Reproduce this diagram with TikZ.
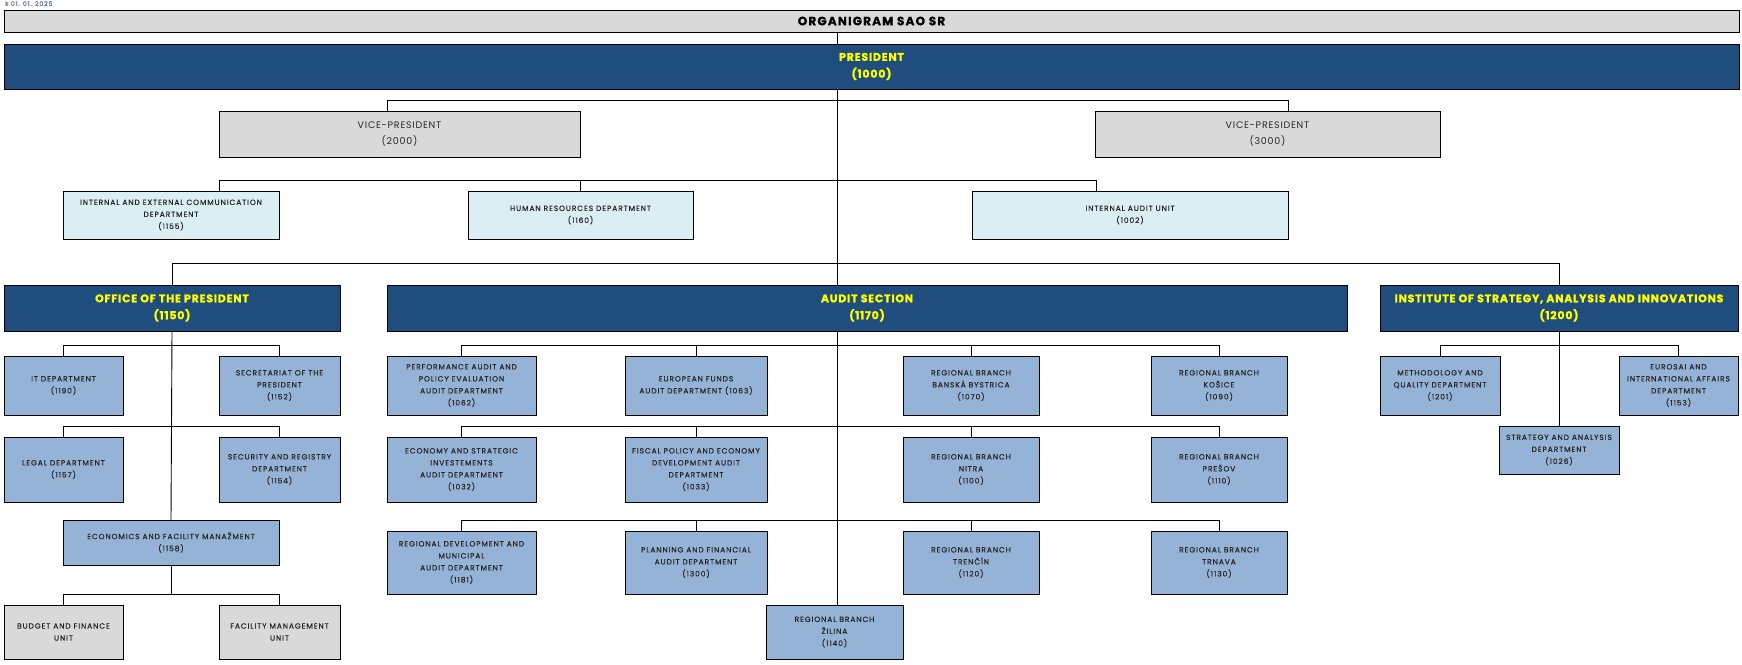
\documentclass[tikz,border=0pt]{standalone}
\usepackage{fontspec}
\setmainfont{Poppins}
\newfontfamily\smallf[LetterSpace=12, FakeBold=0.3]{Poppins}
\newfontfamily\vpf[LetterSpace=8]{Poppins}
\newfontfamily\headf[LetterSpace=7, BoldFeatures={FakeBold=1.2}]{Poppins}
\newfontfamily\titlef[LetterSpace=10, BoldFeatures={FakeBold=0.9}]{Poppins}
\definecolor{gfill}{HTML}{D9D9D9}
\definecolor{dfill}{HTML}{1F4E7E}
\definecolor{mfill}{HTML}{95B3D7}
\definecolor{lfill}{HTML}{DAEEF3}
\definecolor{ytext}{HTML}{FFFF00}
\definecolor{txt}{HTML}{262626}
\definecolor{datec}{HTML}{5B6CA0}
\newcommand\fsm{\smallf\fontsize{7.5}{12}\selectfont}
\newcommand\obox[7]{\node[#6, minimum width={#4pt-#2pt}, minimum height={#5pt-#3pt}] (#1) at ({(#2+#4)/2},{(#3+#5)/2}) {#7};}
\begin{document}
\begin{tikzpicture}[x=1pt,y=-1pt,
  basebox/.style={draw=black, line width=0.9pt, inner sep=1pt, outer sep=0pt, align=center},
  gbox/.style={basebox, fill=gfill, text=txt, font=\fsm},
  titlebox/.style={basebox, fill=gfill, text=black, font=\titlef\fontsize{12}{13}\selectfont\bfseries},
  vpbox/.style={basebox, fill=gfill, text=txt, font=\vpf\fontsize{9.5}{16}\selectfont},
  dbox/.style={basebox, fill=dfill, text=ytext, font=\headf\fontsize{11}{17}\selectfont\bfseries},
  mbox/.style={basebox, fill=mfill, text=txt, font=\fsm},
  lbox/.style={basebox, fill=lfill, text=txt, font=\fsm},
  conn/.style={draw=black, line width=0.9pt}]
\useasboundingbox (0,0) rectangle (1742,664);
\node[anchor=west, inner sep=0pt, text=datec, font=\smallf\fontsize{6.3}{7}\selectfont] (date) at (5,3.6) {k 01. 01. 2025};
% top
\obox{title}{4}{10}{1739}{32}{titlebox}{ORGANIGRAM SAO SR}
\obox{pres}{4}{44}{1739}{89}{dbox}{PRESIDENT\\(1000)}
\obox{vp1}{219}{111}{580}{157}{vpbox}{VICE-PRESIDENT\\(2000)}
\obox{vp2}{1095}{111}{1440}{157}{vpbox}{VICE-PRESIDENT\\(3000)}
\obox{comm}{63}{191}{279}{239}{lbox}{INTERNAL AND EXTERNAL COMMUNICATION\\DEPARTMENT\\(1155)}
\obox{hr}{468}{191}{693}{239}{lbox}{HUMAN RESOURCES DEPARTMENT\\(1160)}
\obox{ia}{972}{191}{1288}{239}{lbox}{INTERNAL AUDIT UNIT\\(1002)}
% level 2
\obox{office}{4}{285}{340}{331}{dbox}{OFFICE OF THE PRESIDENT\\(1150)}
\obox{audit}{387}{285}{1347}{331}{dbox}{AUDIT SECTION\\(1170)}
\obox{inst}{1380}{285}{1738}{331}{dbox}{INSTITUTE OF STRATEGY, ANALYSIS AND INNOVATIONS\\(1200)}
% office
\obox{it}{4}{356}{123}{415}{mbox}{IT DEPARTMENT\\(1190)}
\obox{sec}{219}{356}{340}{415}{mbox}{SECRETARIAT OF THE\\PRESIDENT\\(1152)}
\obox{legal}{4}{437}{123}{502}{mbox}{LEGAL DEPARTMENT\\(1157)}
\obox{secur}{219}{437}{340}{502}{mbox}{SECURITY AND REGISTRY\\DEPARTMENT\\(1154)}
\obox{econ}{63}{520}{279}{565}{mbox}{ECONOMICS AND FACILITY MANAŽMENT\\(1158)}
\obox{budget}{4}{605}{123}{659}{gbox}{BUDGET AND FINANCE\\UNIT}
\obox{facil}{219}{605}{340}{659}{gbox}{FACILITY MANAGEMENT\\UNIT}
% audit
\obox{perf}{387}{356}{536}{415}{mbox}{PERFORMANCE AUDIT AND\\POLICY EVALUATION\\AUDIT DEPARTMENT\\(1062)}
\obox{eu}{625}{356}{767}{415}{mbox}{EUROPEAN FUNDS\\AUDIT DEPARTMENT (1063)}
\obox{bb}{903}{356}{1039}{415}{mbox}{REGIONAL BRANCH\\BANSKÁ BYSTRICA\\(1070)}
\obox{ke}{1151}{356}{1287}{415}{mbox}{REGIONAL BRANCH\\KOŠICE\\(1090)}
\obox{eco}{387}{437}{536}{502}{mbox}{ECONOMY AND STRATEGIC\\INVESTEMENTS\\AUDIT DEPARTMENT\\(1032)}
\obox{fis}{625}{437}{767}{502}{mbox}{FISCAL POLICY AND ECONOMY\\DEVELOPMENT AUDIT\\DEPARTMENT\\(1033)}
\obox{nr}{903}{437}{1039}{502}{mbox}{REGIONAL BRANCH\\NITRA\\(1100)}
\obox{po}{1151}{437}{1287}{502}{mbox}{REGIONAL BRANCH\\PREŠOV\\(1110)}
\obox{rd}{387}{531}{536}{594}{mbox}{REGIONAL DEVELOPMENT AND\\MUNICIPAL\\AUDIT DEPARTMENT\\(1181)}
\obox{pl}{625}{531}{767}{594}{mbox}{PLANNING AND FINANCIAL\\AUDIT DEPARTMENT\\(1300)}
\obox{tn}{903}{531}{1039}{594}{mbox}{REGIONAL BRANCH\\TRENČÍN\\(1120)}
\obox{tt}{1151}{531}{1287}{594}{mbox}{REGIONAL BRANCH\\TRNAVA\\(1130)}
\obox{za}{766}{605}{903}{659}{mbox}{REGIONAL BRANCH\\ŽILINA\\(1140)}
% institute
\obox{meth}{1380}{356}{1500}{415}{mbox}{METHODOLOGY AND\\QUALITY DEPARTMENT\\(1201)}
\obox{euro}{1619}{356}{1738}{415}{mbox}{EUROSAI AND\\INTERNATIONAL AFFAIRS\\DEPARTMENT\\(1153)}
\obox{strat}{1499}{426}{1619}{474}{mbox}{STRATEGY AND ANALYSIS\\DEPARTMENT\\(1026)}
% connectors
\coordinate (T) at (837,0);
\coordinate (v1) at (387,100);
\coordinate (v2) at (1288,100);
\coordinate (s1) at (219,180);
\coordinate (s2) at (580,180);
\coordinate (s3) at (1096,180);
\coordinate (L) at (0,263);
\coordinate (r1) at (0,345);
\coordinate (r2) at (0,426);
\coordinate (r3) at (0,520);
\coordinate (r4) at (0,594);
\draw[conn] (title.south -| T) -- (pres.north -| T);
\draw[conn] (pres.south -| T) -- (audit.north -| T);
\draw[conn] (audit.south -| T) -- (za.north -| T);
\draw[conn] (v1 |- vp1.north) -- (v1) -- (v2) -- (v2 |- vp2.north);
\draw[conn] (s1 |- comm.north) -- (s1) -- (s3) -- (s3 |- ia.north);
\draw[conn] (s2) -- (s2 |- hr.north);
\draw[conn] (office.north) |- (inst.north |- L) -- (inst.north);
% office subtree
\draw[conn] (office.south) -- (econ.north);
\draw[conn] (it.north) |- (sec.north |- r1) -- (sec.north);
\draw[conn] (legal.north) |- (secur.north |- r2) -- (secur.north);
\draw[conn] (econ.south) -- (econ.south |- r4);
\draw[conn] (budget.north) |- (facil.north |- r4) -- (facil.north);
% audit subtree
\draw[conn] (perf.north) |- (ke.north |- r1) -- (ke.north);
\draw[conn] (eu.north) -- (eu.north |- r1);
\draw[conn] (bb.north) -- (bb.north |- r1);
\draw[conn] (eco.north) |- (po.north |- r2) -- (po.north);
\draw[conn] (fis.north) -- (fis.north |- r2);
\draw[conn] (nr.north) -- (nr.north |- r2);
\draw[conn] (rd.north) |- (tt.north |- r3) -- (tt.north);
\draw[conn] (pl.north) -- (pl.north |- r3);
\draw[conn] (tn.north) -- (tn.north |- r3);
% institute subtree
\draw[conn] (inst.south) -- (strat.north);
\draw[conn] (meth.north) |- (euro.north |- r1) -- (euro.north);
\end{tikzpicture}
\end{document}
